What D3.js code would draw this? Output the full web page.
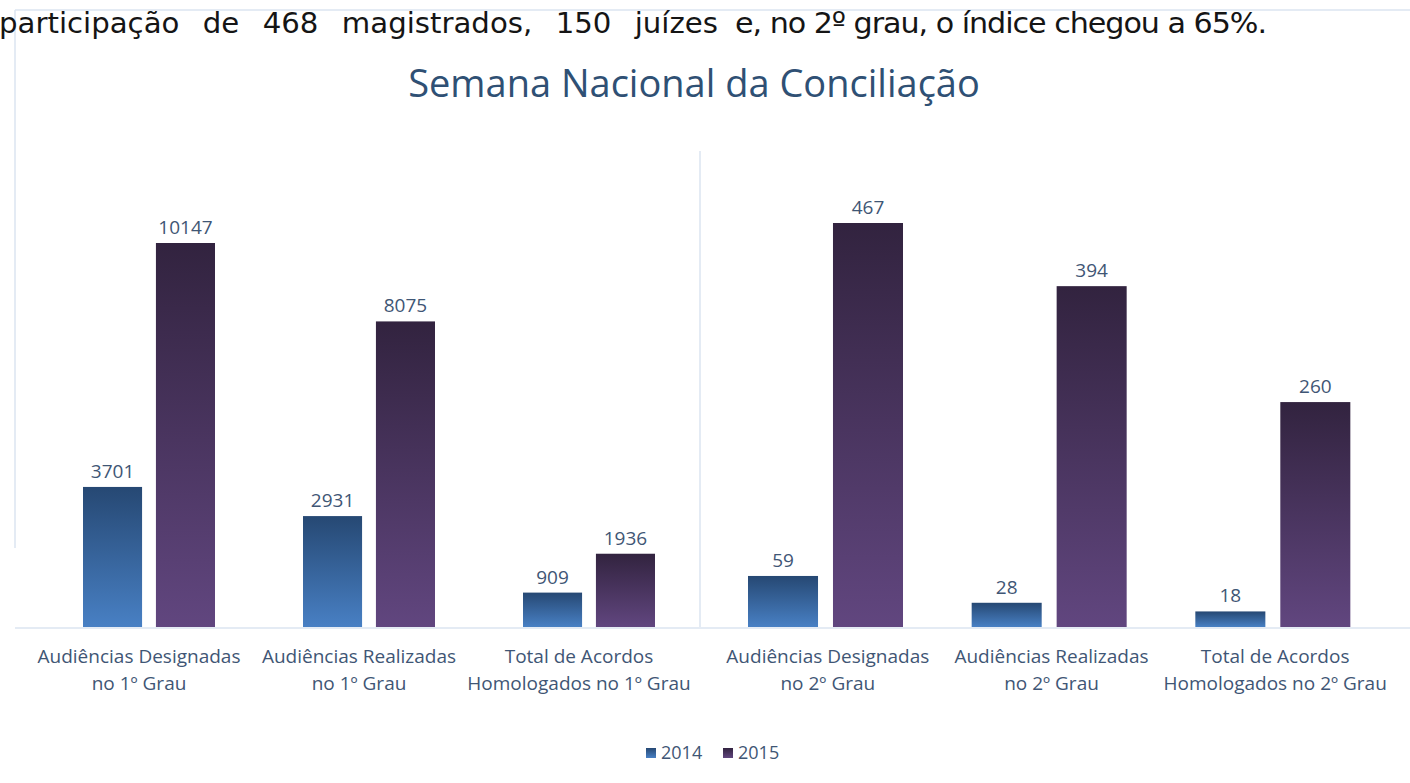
<!DOCTYPE html>
<html>
<head>
<meta charset="utf-8">
<script src="https://cdn.jsdelivr.net/npm/d3@7"></script>
<style>
  html, body { margin: 0; padding: 0; background: #fff; }
  svg { display: block; }
</style>
</head>
<body>
<svg id="svg" width="1410" height="783"></svg>
<script>
const years = ['2014', '2015']
const firstCats = [
  ['Audiências Designadas', 'no 1º Grau'],
  ['Audiências Realizadas', 'no 1º Grau'],
  ['Total de Acordos', 'Homologados no 1º Grau']
]
const secondCats = [
  ['Audiências Designadas', 'no 2º Grau'],
  ['Audiências Realizadas', 'no 2º Grau'],
  ['Total de Acordos', 'Homologados no 2º Grau']
]
const first2014 = [3701, 2931, 909]
const first2015 = [10147, 8075, 1936]
const second2014 = [59, 28, 18]
const second2015 = [467, 394, 260]

const width = 1410
const baseY = 627
const labelColor = '#3f5675'
const font = "'Open Sans', sans-serif"

const svg = d3.select('#svg')
const defs = svg.append('defs')

const gradients = {
  '2014': ['#264873', '#4880c4'],
  '2015': ['#32233f', '#61467f']
}
Object.entries(gradients).forEach(([year, [top, bottom]]) => {
  const g = defs.append('linearGradient')
    .attr('id', `grad-${year}`)
    .attr('x1', 0).attr('y1', 0).attr('x2', 0).attr('y2', 1)
  g.append('stop').attr('offset', '0%').attr('stop-color', top)
  g.append('stop').attr('offset', '100%').attr('stop-color', bottom)
})

// frame lines
const frame = svg.append('g').attr('stroke', '#dbe5f1').attr('stroke-width', 1.5)
frame.append('line').attr('x1', 15).attr('x2', width).attr('y1', 10).attr('y2', 10)
frame.append('line').attr('x1', 15).attr('x2', 15).attr('y1', 10).attr('y2', 548)
frame.append('line').attr('x1', 15).attr('x2', width).attr('y1', baseY + 1).attr('y2', baseY + 1)
frame.append('line').attr('x1', 700).attr('x2', 700).attr('y1', 151).attr('y2', baseY)

// text from the page above the chart (narrow, tall glyphs)
svg.append('text')
  .attr('x', -1).attr('y', 33)
  .attr('font-family', 'DejaVu Sans, Verdana, sans-serif')
  .attr('font-size', 29)
  .attr('word-spacing', 14)
  .attr('fill', '#151515')
  .attr('textLength', 719)
  .attr('lengthAdjust', 'spacingAndGlyphs')
  .text('participação de 468 magistrados, 150 juízes')

svg.append('text')
  .attr('x', 735).attr('y', 33)
  .attr('font-family', 'DejaVu Sans, Verdana, sans-serif')
  .attr('font-size', 29)
  .attr('letter-spacing', -1)
  .attr('fill', '#151515')
  .attr('textLength', 531)
  .attr('lengthAdjust', 'spacingAndGlyphs')
  .text('e, no 2º grau, o índice chegou a 65%.')

svg.append('text')
  .attr('x', 694).attr('y', 97)
  .attr('text-anchor', 'middle')
  .attr('font-family', font)
  .attr('font-size', 38)
  .attr('fill', '#2f5074')
  .text('Semana Nacional da Conciliação')

const drawPanel = (cats, vals2014, vals2015, opts) => {
  const x0 = d3.scaleBand()
    .domain(d3.range(cats.length))
    .range(opts.range)
    .padding(0)
  const x1 = d3.scaleBand()
    .domain(years)
    .range(opts.inner)
    .paddingInner(opts.pad)
  const y = d3.scaleLinear()
    .domain([0, opts.max])
    .range([baseY, baseY - opts.maxPx])

  const data = cats.map((c, i) => ({ cat: c, i, values: [vals2014[i], vals2015[i]] }))
  const groups = svg.append('g').selectAll('g')
    .data(data)
    .join('g')
    .attr('transform', d => `translate(${x0(d.i)},0)`)

  groups.selectAll('rect')
    .data(d => years.map((yr, j) => ({ yr, v: d.values[j] })))
    .join('rect')
    .attr('x', d => x1(d.yr))
    .attr('width', x1.bandwidth())
    .attr('y', d => y(d.v))
    .attr('height', d => baseY - y(d.v))
    .attr('fill', d => `url(#grad-${d.yr})`)

  groups.selectAll('text.value')
    .data(d => years.map((yr, j) => ({ yr, v: d.values[j] })))
    .join('text')
    .attr('class', 'value')
    .attr('x', d => x1(d.yr) + x1.bandwidth() / 2)
    .attr('y', d => y(d.v) - 9)
    .attr('text-anchor', 'middle')
    .attr('font-family', font)
    .attr('font-size', 19)
    .attr('fill', labelColor)
    .text(d => d.v)

  groups.each(function (d) {
    const t = d3.select(this).append('text')
      .attr('text-anchor', 'middle')
      .attr('font-family', font)
      .attr('font-size', 19)
      .attr('fill', labelColor)
    d.cat.forEach((line, k) => {
      t.append('tspan')
        .attr('x', x0.bandwidth() / 2 + opts.labelShift)
        .attr('y', 663 + k * 27)
        .text(line)
    })
  })
}

drawPanel(firstCats, first2014, first2015, {
  range: [39, 699], inner: [44, 176], pad: 0.19,
  max: 12000, maxPx: 12000 * 384 / 10147, labelShift: -10
})

drawPanel(secondCats, second2014, second2015, {
  range: [714, 1385], inner: [34, 189], pad: 0.176,
  max: 500, maxPx: 500 * 404 / 467, labelShift: 2
})

// legend
const legend = svg.append('g').attr('transform', 'translate(646,748)')
years.forEach((yr, i) => {
  const lg = legend.append('g').attr('transform', `translate(${i * 77},0)`)
  lg.append('rect').attr('width', 10).attr('height', 10)
    .attr('fill', `url(#grad-${yr})`)
  lg.append('text')
    .attr('x', 15).attr('y', 11)
    .attr('font-family', font)
    .attr('font-size', 18)
    .attr('fill', labelColor)
    .text(yr)
})
</script>
</body>
</html>
